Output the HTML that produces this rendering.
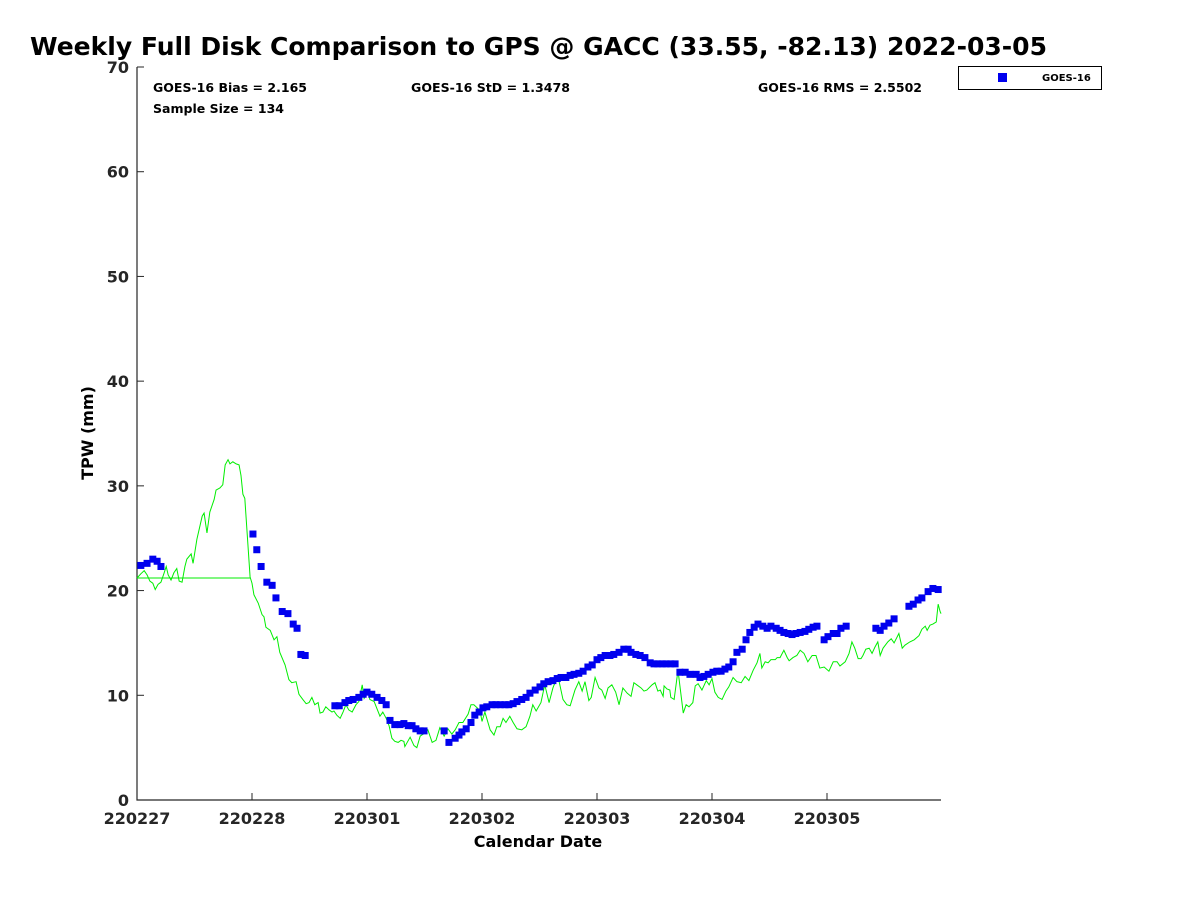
<!DOCTYPE html>
<html><head><meta charset="utf-8"><style>
body{margin:0;background:#fff;font-family:"Liberation Sans",sans-serif;}
svg text{font-family:"DejaVu Sans","Liberation Sans",sans-serif;font-weight:bold;}
</style></head><body>
<svg id="chart" width="1200" height="900" viewBox="0 0 1200 900" xmlns="http://www.w3.org/2000/svg">
<rect width="1200" height="900" fill="#fff"/>
<text x="30" y="55" font-size="24.5" textLength="1017" lengthAdjust="spacingAndGlyphs">Weekly Full Disk Comparison to GPS @ GACC (33.55, -82.13) 2022-03-05</text>
<text x="153" y="92" font-size="12" textLength="154" lengthAdjust="spacingAndGlyphs">GOES-16 Bias = 2.165</text>
<text x="411" y="92" font-size="12" textLength="159" lengthAdjust="spacingAndGlyphs">GOES-16 StD = 1.3478</text>
<text x="758" y="92" font-size="12" textLength="164" lengthAdjust="spacingAndGlyphs">GOES-16 RMS = 2.5502</text>
<text x="153" y="113" font-size="12" textLength="131" lengthAdjust="spacingAndGlyphs">Sample Size = 134</text>
<g>
<rect x="958.5" y="66.5" width="143" height="23" fill="#fff" stroke="#000" stroke-width="1"/>
<rect x="998" y="73" width="9" height="9" fill="#0000ee"/>
<text x="1042" y="81" font-size="10">GOES-16</text>
</g>
<text transform="translate(93,433) rotate(-90)" text-anchor="middle" font-size="16">TPW (mm)</text>
<text x="538" y="847" text-anchor="middle" font-size="16">Calendar Date</text>
<g id="axes"></g>
<g id="marks"></g>
</svg>
<script>
const yTicks=[0,10,20,30,40,50,60,70];
const xTickLabels=["220227","220228","220301","220302","220303","220304","220305"];
const gapLineHours=[0,23.6];
const gapLineValues=[21.2,21.2];
const goesHours=[0.8,2.1,3.3,4.2,5.0,24.2,25.0,25.9,27.1,28.2,29.0,30.3,31.5,32.6,33.4,34.2,35.1,41.3,42.2,43.4,44.2,45.1,46.3,47.2,48.0,49.0,50.1,51.1,52.0,52.8,53.8,54.9,55.7,56.6,57.4,58.2,59.1,59.9,64.1,65.1,66.4,67.2,67.8,68.7,69.7,70.5,71.4,72.2,73.0,74.1,74.9,75.8,76.8,77.6,78.5,79.3,80.3,81.2,82.0,83.1,84.1,84.9,85.8,86.8,87.7,88.5,89.5,90.4,91.2,92.2,93.1,94.1,95.0,96.0,96.8,97.7,98.7,99.5,100.6,101.6,102.5,103.1,104.1,105.0,106.0,107.1,107.9,108.7,109.6,110.4,111.4,112.3,113.3,114.4,115.4,116.7,117.5,118.3,119.2,120.2,121.0,121.9,122.7,123.5,124.4,125.2,126.3,127.1,127.9,128.8,129.6,130.6,131.5,132.3,133.4,134.2,135.0,135.9,136.7,137.5,138.4,139.4,140.2,141.1,141.9,143.4,144.2,145.3,146.1,146.9,148.0,154.2,155.1,155.9,156.9,158.0,161.1,162.0,163.0,163.8,165.1,166.1,167.2];
const goesValues=[22.4,22.6,23.0,22.8,22.3,25.4,23.9,22.3,20.8,20.5,19.3,18.0,17.8,16.8,16.4,13.9,13.8,9.0,9.0,9.3,9.5,9.6,9.8,10.1,10.3,10.1,9.8,9.5,9.1,7.6,7.2,7.2,7.3,7.1,7.1,6.8,6.6,6.6,6.6,5.5,5.9,6.2,6.5,6.8,7.4,8.1,8.4,8.8,8.9,9.1,9.1,9.1,9.1,9.1,9.2,9.4,9.6,9.8,10.2,10.5,10.8,11.1,11.3,11.4,11.6,11.7,11.7,11.9,12.0,12.1,12.3,12.7,12.9,13.4,13.6,13.8,13.8,13.9,14.1,14.4,14.4,14.1,13.9,13.8,13.6,13.1,13.0,13.0,13.0,13.0,13.0,13.0,12.2,12.2,12.0,12.0,11.7,11.8,12.0,12.2,12.3,12.3,12.5,12.7,13.2,14.1,14.4,15.3,16.0,16.5,16.8,16.6,16.4,16.6,16.4,16.2,16.0,15.9,15.8,15.9,16.0,16.1,16.3,16.5,16.6,15.3,15.6,15.9,15.9,16.4,16.6,16.4,16.2,16.6,16.9,17.3,18.5,18.7,19.1,19.3,19.9,20.2,20.1];
const gpsHours=[0,0.8,1.5,2.1,2.7,3.3,3.8,4.4,5.0,5.6,6.1,6.5,7.1,7.7,8.3,8.8,9.4,10.0,10.4,11.3,11.7,12.5,13.6,14.0,14.6,15.2,16.1,16.5,17.3,17.9,18.4,19.0,19.4,20.0,20.7,21.3,21.7,22.1,22.5,23.6,24.0,24.4,25.3,26.1,26.5,26.9,27.8,28.6,29.2,29.8,30.9,31.7,32.3,33.2,33.8,34.6,35.3,35.9,36.5,37.1,37.8,38.2,38.8,39.4,40.1,40.7,41.1,41.7,42.4,43.0,43.6,44.2,44.9,45.7,46.3,47.0,47.4,48.2,48.6,49.5,50.1,50.7,51.3,52.0,52.6,53.2,53.8,54.5,55.1,55.7,55.9,57.0,57.8,58.4,59.1,60.1,60.7,61.6,62.4,63.2,64.1,64.9,65.7,66.4,67.2,68.0,69.1,69.7,70.3,71.0,71.6,72.0,72.6,73.7,74.5,75.1,75.8,76.4,77.0,77.8,78.5,79.3,80.3,81.2,82.0,82.6,83.3,84.3,85.1,86.0,86.8,87.4,88.1,88.9,89.7,90.4,91.4,92.2,92.9,93.5,94.3,94.8,95.6,96.4,97.0,97.7,98.3,99.1,99.9,100.6,101.4,102.3,103.1,103.7,104.3,105.2,105.8,106.4,107.5,108.1,108.7,109.2,109.8,110.0,110.6,111.2,111.4,112.1,112.9,114.0,114.6,115.2,116.0,116.5,117.1,117.9,118.8,119.4,120.0,120.6,121.3,122.1,122.9,123.5,124.4,125.2,126.1,126.9,127.7,128.6,129.4,130.0,130.4,131.1,131.7,132.3,133.2,133.6,134.2,135.0,135.7,136.1,136.9,137.7,138.4,139.2,140.0,140.9,141.7,142.5,143.4,144.4,145.3,146.1,146.7,147.8,148.6,149.2,149.8,150.5,151.1,151.5,152.1,152.8,153.4,154.0,154.6,155.1,155.7,156.7,157.4,158.0,159.0,159.7,160.3,161.3,162.2,163.2,163.8,164.5,164.9,165.5,166.1,166.8,167.2,167.6,167.8];
const gpsValues=[21.2,21.6,21.9,21.5,20.9,20.7,20.1,20.6,20.8,21.6,22.3,21.5,21.0,21.7,22.1,20.9,20.8,22.3,23.0,23.5,22.6,24.9,27.1,27.4,25.5,27.5,28.7,29.6,29.8,30.1,32.0,32.5,32.1,32.3,32.1,32.0,31.0,29.2,28.8,21.3,20.7,19.6,18.8,17.7,17.5,16.5,16.2,15.3,15.6,14.1,12.9,11.5,11.2,11.3,10.1,9.6,9.2,9.3,9.8,9.1,9.3,8.3,8.4,8.9,8.6,8.4,8.5,8.1,7.8,8.4,9.1,8.6,8.4,9.1,9.4,11.0,9.7,10.3,9.6,9.4,8.7,8.0,8.4,7.8,7.1,5.9,5.6,5.5,5.7,5.6,5.1,6.0,5.2,5.0,6.1,6.4,6.7,5.5,5.7,6.9,6.1,6.8,6.3,6.7,7.4,7.4,8.2,9.1,9.1,8.8,8.5,7.5,8.4,6.7,6.2,7.0,7.0,7.8,7.4,8.0,7.4,6.8,6.7,7.0,8.0,9.1,8.5,9.3,11.0,9.3,10.7,11.4,11.3,9.6,9.1,9.0,10.5,11.3,10.4,11.3,9.5,9.8,11.7,10.7,10.5,9.7,10.7,11.0,10.3,9.1,10.7,10.2,9.9,11.2,11.0,10.7,10.4,10.5,11.0,11.2,10.4,10.5,9.9,10.9,10.6,10.5,9.8,9.6,12.4,8.3,9.1,8.9,9.3,10.9,11.1,10.5,11.4,11.0,11.6,10.3,9.8,9.6,10.4,10.8,11.7,11.3,11.2,11.8,11.4,12.4,13.1,14.0,12.6,13.2,13.1,13.4,13.4,13.6,13.6,14.3,13.6,13.3,13.6,13.8,14.3,14.0,13.2,13.8,13.8,12.6,12.7,12.3,13.2,13.2,12.8,13.2,14.0,15.1,14.5,13.5,13.5,13.8,14.4,14.5,14.0,14.6,15.1,13.8,14.5,15.1,15.4,15.0,15.9,14.5,14.8,15.1,15.3,15.7,16.3,16.6,16.2,16.7,16.8,17.0,18.7,18.0,17.8];

const NS="http://www.w3.org/2000/svg";
const X0=137,X1=941,Y0=800,Y1=67,PXDAY=115;
function xs(h){return X0+h/24*PXDAY;}
function ys(v){return Y0-(v-0)/(70-0)*(Y0-Y1);}
const axes=document.getElementById('axes');
const marks=document.getElementById('marks');
function mk(tag,attrs,parent){const e=document.createElementNS(NS,tag);for(const k in attrs)e.setAttribute(k,attrs[k]);parent.appendChild(e);return e;}

let a=mk('path',{d:`M${X0},${Y1} V${Y0} H${X1}`,fill:'none',stroke:'#262626','stroke-width':1.2},axes);


yTicks.forEach(v=>{
  const y=ys(v);
  const t=mk('line',{x1:X0,x2:X0+7,y1:y,y2:y,stroke:'#262626'},axes);
  
  
  const l=mk('text',{x:X0-8,y:y+6,'text-anchor':'end','font-size':16,fill:'#262626'},axes);
  l.textContent=v;
  
  
});
xTickLabels.forEach((s,i)=>{
  const x=xs(i*24);
  const t=mk('line',{x1:x,x2:x,y1:Y0,y2:Y0-7,stroke:'#262626'},axes);
  
  
  const l=mk('text',{x:x,y:Y0+24,'text-anchor':'middle','font-size':16,fill:'#262626'},axes);
  l.textContent=s;
  
  
});
let g=mk('polyline',{points:gapLineHours.map((h,i)=>xs(h)+','+ys(gapLineValues[i])).join(' '),fill:'none',stroke:'#00ee00','stroke-width':1},marks);


let p=mk('polyline',{points:gpsHours.map((h,i)=>xs(h)+','+ys(gpsValues[i])).join(' '),fill:'none',stroke:'#00ee00','stroke-width':1},marks);


goesHours.forEach((h,i)=>{
  const r=mk('rect',{x:xs(h)-3.5,y:ys(goesValues[i])-3.5,width:7,height:7,fill:'#0000ee'},marks);
  
  
});
</script>
</body></html>
